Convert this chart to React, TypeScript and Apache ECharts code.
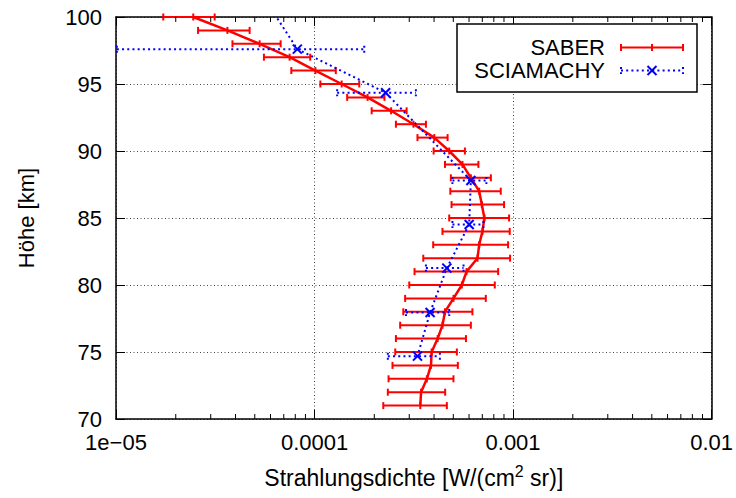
import React, { useEffect, useRef } from 'react';
import * as echarts from 'echarts';

const FONT = '"Liberation Sans", Arial, Helvetica, sans-serif';

// SABER (altitude in km, radiance and error bounds in W/(cm^2 sr))
const saberAltitude = [100, 99, 98, 97, 96, 95, 94, 93, 92, 91, 90, 89, 88, 87, 86, 85, 84, 83, 82, 81, 80, 79, 78, 77, 76, 75, 74, 73, 72, 71];
const saberRadiance = [2.45e-5, 3.64e-5, 5.29e-5, 7.49e-5, 1.01e-4, 1.37e-4, 1.85e-4, 2.43e-4, 3.15e-4, 4.01e-4, 4.77e-4, 5.56e-4, 6.13e-4, 6.75e-4, 6.96e-4, 7.17e-4, 7.01e-4, 6.75e-4, 6.62e-4, 5.83e-4, 5.52e-4, 5.01e-4, 4.54e-4, 4.41e-4, 4.17e-4, 3.89e-4, 3.86e-4, 3.68e-4, 3.44e-4, 3.41e-4];
const saberLow = [1.73e-5, 2.59e-5, 3.86e-5, 5.56e-5, 7.64e-5, 1.07e-4, 1.46e-4, 1.94e-4, 2.57e-4, 3.30e-4, 3.98e-4, 4.54e-4, 4.86e-4, 4.83e-4, 4.90e-4, 4.77e-4, 4.41e-4, 3.96e-4, 3.53e-4, 3.19e-4, 3.00e-4, 2.86e-4, 2.80e-4, 2.70e-4, 2.57e-4, 2.55e-4, 2.47e-4, 2.36e-4, 2.34e-4, 2.22e-4];
const saberHigh = [3.14e-5, 4.71e-5, 6.75e-5, 9.51e-5, 1.28e-4, 1.68e-4, 2.25e-4, 2.91e-4, 3.64e-4, 4.68e-4, 5.72e-4, 6.69e-4, 7.73e-4, 8.67e-4, 9.01e-4, 9.55e-4, 9.62e-4, 9.44e-4, 9.66e-4, 8.41e-4, 8.09e-4, 7.29e-4, 6.24e-4, 6.13e-4, 5.79e-4, 5.21e-4, 5.27e-4, 5.01e-4, 4.55e-4, 4.64e-4];

// SCIAMACHY
const sciaAltitude = [100.86, 97.6, 94.35, 87.8, 84.52, 81.26, 77.95, 74.69];
const sciaRadiance = [5.89e-5, 8.19e-5, 2.28e-4, 6.13e-4, 6.01e-4, 4.64e-4, 3.82e-4, 3.30e-4];
const sciaLow = [2.0e-5, 1.01e-5, 1.30e-4, 4.95e-4, 4.95e-4, 3.64e-4, 2.89e-4, 2.34e-4];
const sciaHigh = [1.5e-4, 1.78e-4, 3.24e-4, 7.34e-4, 7.09e-4, 5.63e-4, 4.77e-4, 4.28e-4];

// axes
const xMin = 1e-5;
const xMax = 1e-2;
const xTickLabels = ['1e\u221205', '0.0001', '0.001', '0.01'];
const yMin = 70;
const yMax = 100;
const yStep = 5;
const minorDecades = [1e-5, 1e-4, 1e-3];
const minorMultipliers = [2, 3, 4, 5, 6, 7, 8, 9];

const RED = '#ff0000';
const BLUE = '#0000ff';

export default function App() {
  const ref = useRef<HTMLDivElement>(null);

  useEffect(() => {
    if (!ref.current) return;
    const chart = echarts.init(ref.current, undefined, { renderer: 'svg' });

    const minorTicks: number[][] = [];
    minorDecades.forEach((d) => minorMultipliers.forEach((m) => minorTicks.push([d * m, yMin])));

    const saberErrData = saberAltitude.map((a, i) => [saberRadiance[i], a, saberLow[i], saberHigh[i]]);
    const sciaErrData = sciaAltitude.map((a, i) => [sciaRadiance[i], a, sciaLow[i], sciaHigh[i]]);

    const renderSaberErr = (params: any, api: any) => {
      const y = api.value(1);
      if (y > yMax || y < yMin) return null;
      const c = api.coord([api.value(0), y]);
      const lo = api.coord([api.value(2), y]);
      const hi = api.coord([api.value(3), y]);
      const h = 3.5;
      const style = { stroke: RED, lineWidth: 2, fill: null };
      return {
        type: 'group',
        children: [
          { type: 'line', shape: { x1: lo[0], y1: lo[1], x2: hi[0], y2: hi[1] }, style },
          { type: 'line', shape: { x1: lo[0], y1: lo[1] - h, x2: lo[0], y2: lo[1] + h }, style },
          { type: 'line', shape: { x1: hi[0], y1: hi[1] - h, x2: hi[0], y2: hi[1] + h }, style },
          { type: 'line', shape: { x1: c[0], y1: c[1] - h, x2: c[0], y2: c[1] + h }, style },
        ],
      };
    };

    const renderSciaErr = (params: any, api: any) => {
      const y = api.value(1);
      if (y > yMax || y < yMin) return null;
      const c = api.coord([api.value(0), y]);
      const lo = api.coord([api.value(2), y]);
      const hi = api.coord([api.value(3), y]);
      const h = 3.5;
      const m = 4.5;
      const dotted = { stroke: BLUE, lineWidth: 2, fill: null, lineDash: [2, 3.2] };
      const solid = { stroke: BLUE, lineWidth: 2, fill: null };
      return {
        type: 'group',
        children: [
          { type: 'line', shape: { x1: lo[0], y1: lo[1], x2: hi[0], y2: hi[1] }, style: dotted },
          { type: 'line', shape: { x1: lo[0], y1: lo[1] - h, x2: lo[0], y2: lo[1] + h }, style: dotted },
          { type: 'line', shape: { x1: hi[0], y1: hi[1] - h, x2: hi[0], y2: hi[1] + h }, style: dotted },
          { type: 'line', shape: { x1: c[0] - m, y1: c[1] - m, x2: c[0] + m, y2: c[1] + m }, style: solid },
          { type: 'line', shape: { x1: c[0] - m, y1: c[1] + m, x2: c[0] + m, y2: c[1] - m }, style: solid },
        ],
      };
    };

    const renderMinor = (params: any, api: any) => {
      const x = api.value(0);
      const b = api.coord([x, yMin]);
      const t = api.coord([x, yMax]);
      const style = { stroke: '#000', lineWidth: 1, fill: null };
      return {
        type: 'group',
        children: [
          { type: 'line', shape: { x1: b[0], y1: b[1], x2: b[0], y2: b[1] - 5 }, style },
          { type: 'line', shape: { x1: t[0], y1: t[1], x2: t[0], y2: t[1] + 5 }, style },
        ],
      };
    };

    const axisLine = { show: true, onZero: false, lineStyle: { color: '#000', width: 1.5 } };
    const splitLine = { show: true, lineStyle: { color: '#444', width: 1, type: [1, 2.5] as any } };
    const axisTick = { show: true, inside: true, length: 9, lineStyle: { color: '#000', width: 1 } };

    const xLabel = (v: number) => {
      const idx = Math.round(Math.log10(v)) + 5;
      return xTickLabels[idx] ?? '';
    };

    const legendX0 = 621;
    const legendX1 = 683;
    const legendXm = 652;
    const row1 = 47.5;
    const row2 = 70.5;

    chart.setOption({
      animation: false,
      backgroundColor: '#fff',
      grid: { left: 116, right: 23, top: 17, bottom: 76, containLabel: false },
      textStyle: { fontFamily: FONT },
      xAxis: [
        {
          type: 'log',
          logBase: 10,
          min: xMin,
          max: xMax,
          position: 'bottom',
          axisLine,
          axisTick,
          splitLine,
          axisLabel: { fontSize: 22, lineHeight: 18, color: '#000', fontFamily: FONT, margin: 14, formatter: xLabel },
          name: 'Strahlungsdichte [W/(cm{sup|2} sr)]',
          nameLocation: 'middle',
          nameGap: 44,
          nameTextStyle: {
            fontSize: 23,
            color: '#000',
            fontFamily: FONT,
            lineHeight: 30,
            rich: { sup: { fontSize: 16, lineHeight: 16, verticalAlign: 'top', color: '#000', fontFamily: FONT } },
          },
        },
        {
          type: 'log',
          logBase: 10,
          min: xMin,
          max: xMax,
          position: 'top',
          axisLine,
          axisTick,
          splitLine: { show: false },
          axisLabel: { show: false },
        },
      ],
      yAxis: [
        {
          type: 'value',
          min: yMin,
          max: yMax,
          interval: yStep,
          position: 'left',
          axisLine,
          axisTick,
          splitLine,
          axisLabel: { fontSize: 22, lineHeight: 18, color: '#000', fontFamily: FONT, margin: 14 },
          name: 'Höhe [km]',
          nameLocation: 'middle',
          nameRotate: 90,
          nameGap: 79,
          nameTextStyle: { fontSize: 22, color: '#000', fontFamily: FONT },
        },
        {
          type: 'value',
          min: yMin,
          max: yMax,
          interval: yStep,
          position: 'right',
          axisLine,
          axisTick,
          splitLine: { show: false },
          axisLabel: { show: false },
        },
      ],
      series: [
        {
          type: 'custom',
          name: 'minor',
          xAxisIndex: 0,
          yAxisIndex: 0,
          silent: true,
          renderItem: renderMinor,
          encode: { x: 0, y: 1 },
          data: minorTicks,
          z: 5,
        },
        {
          type: 'custom',
          name: 'SABER err',
          xAxisIndex: 0,
          yAxisIndex: 0,
          renderItem: renderSaberErr,
          encode: { x: [0, 2, 3], y: 1 },
          data: saberErrData,
          clip: false,
          z: 2,
        },
        {
          type: 'line',
          name: 'SABER',
          xAxisIndex: 0,
          yAxisIndex: 0,
          data: saberAltitude.map((a, i) => [saberRadiance[i], a]),
          symbol: 'none',
          lineStyle: { color: RED, width: 2.5 },
          itemStyle: { color: RED },
          clip: true,
          z: 3,
        },
        {
          type: 'custom',
          name: 'SCIAMACHY err',
          xAxisIndex: 0,
          yAxisIndex: 0,
          renderItem: renderSciaErr,
          encode: { x: [0, 2, 3], y: 1 },
          data: sciaErrData,
          clip: false,
          z: 4,
        },
        {
          type: 'line',
          name: 'SCIAMACHY',
          xAxisIndex: 0,
          yAxisIndex: 0,
          data: sciaAltitude.map((a, i) => [sciaRadiance[i], a]),
          symbol: 'none',
          lineStyle: { color: BLUE, width: 2, type: [2, 3.2] as any },
          itemStyle: { color: BLUE },
          clip: true,
          z: 4,
        },
      ],
      graphic: [
        {
          type: 'rect',
          z: 100,
          shape: { x: 457, y: 24, width: 240, height: 68 },
          style: { fill: '#fff', stroke: '#000', lineWidth: 1.5 },
        },
        {
          type: 'text',
          z: 101,
          x: 605,
          y: row1,
          style: { text: 'SABER', fontSize: 22, fontFamily: FONT, fill: '#000', align: 'right', verticalAlign: 'middle', textAlign: 'right', textVerticalAlign: 'middle' },
        },
        {
          type: 'text',
          z: 101,
          x: 605,
          y: row2,
          style: { text: 'SCIAMACHY', fontSize: 22, fontFamily: FONT, fill: '#000', align: 'right', verticalAlign: 'middle', textAlign: 'right', textVerticalAlign: 'middle' },
        },
        { type: 'line', z: 101, shape: { x1: legendX0, y1: row1, x2: legendX1, y2: row1 }, style: { stroke: RED, lineWidth: 2 } },
        { type: 'line', z: 101, shape: { x1: legendX0, y1: row1 - 3.5, x2: legendX0, y2: row1 + 3.5 }, style: { stroke: RED, lineWidth: 2 } },
        { type: 'line', z: 101, shape: { x1: legendX1, y1: row1 - 3.5, x2: legendX1, y2: row1 + 3.5 }, style: { stroke: RED, lineWidth: 2 } },
        { type: 'line', z: 101, shape: { x1: legendXm, y1: row1 - 3.5, x2: legendXm, y2: row1 + 3.5 }, style: { stroke: RED, lineWidth: 2 } },
        { type: 'line', z: 101, shape: { x1: legendX0, y1: row2, x2: legendX1, y2: row2 }, style: { stroke: BLUE, lineWidth: 2, lineDash: [2, 3.2] } },
        { type: 'line', z: 101, shape: { x1: legendX0, y1: row2 - 3.5, x2: legendX0, y2: row2 + 3.5 }, style: { stroke: BLUE, lineWidth: 2, lineDash: [2, 3.2] } },
        { type: 'line', z: 101, shape: { x1: legendX1, y1: row2 - 3.5, x2: legendX1, y2: row2 + 3.5 }, style: { stroke: BLUE, lineWidth: 2, lineDash: [2, 3.2] } },
        { type: 'line', z: 101, shape: { x1: legendXm - 4.5, y1: row2 - 4.5, x2: legendXm + 4.5, y2: row2 + 4.5 }, style: { stroke: BLUE, lineWidth: 2 } },
        { type: 'line', z: 101, shape: { x1: legendXm - 4.5, y1: row2 + 4.5, x2: legendXm + 4.5, y2: row2 - 4.5 }, style: { stroke: BLUE, lineWidth: 2 } },
      ],
    });

    return () => chart.dispose();
  }, []);

  return (
    <div
      ref={ref}
      style={{ position: 'fixed', left: 0, top: 0, width: 736, height: 498, background: '#fff' }}
    />
  );
}
